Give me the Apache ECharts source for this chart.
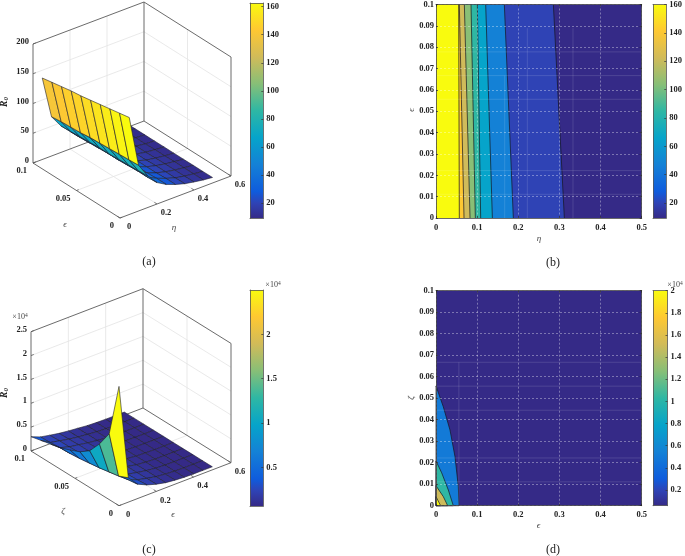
<!DOCTYPE html>
<html>
<head>
<meta charset="utf-8">
<style>
html, body { margin: 0; padding: 0; background: #fff; }
#chart { width: 685px; height: 556px; }
</style>
<script src="https://cdn.jsdelivr.net/npm/echarts@6/dist/echarts.min.js"></script>
</head>
<body>
<div id="chart"></div>
<script>
// panel (a): surface R0 over eta (rows) and epsilon (columns)
const etaA = [0.05, 0.1, 0.15, 0.2, 0.25, 0.3, 0.35, 0.4, 0.45, 0.5];
const epsA = [0, 0.0111, 0.0222, 0.0333, 0.0444, 0.0556, 0.0667, 0.0778, 0.0889, 0.1];
const r0A = [
    [163, 160, 157, 154, 151, 148, 146, 143, 140, 137],
    [77, 76, 75, 74, 73, 72, 70, 69, 68, 66],
    [53, 52, 51, 50, 49, 49, 48, 47, 46, 45],
    [36, 35, 35, 34, 33, 33, 32, 31, 30, 29.5],
    [27, 27, 26, 26, 25, 25, 24, 24, 23, 23],
    [21, 21, 20, 20, 20, 19, 19, 19, 18, 18],
    [16.5, 16, 16, 16, 15, 15, 15, 15, 14, 14],
    [13.5, 13, 13, 13, 12.5, 12, 12, 12, 12, 11.5],
    [11, 11, 11, 11, 10.5, 10.5, 10, 10, 10, 10],
    [9.3, 9.2, 9.2, 9.1, 9.1, 9.1, 9, 9, 9, 9]
];
const etaTicksA = [0, 0.2, 0.4, 0.6];
const epsTicksA = [0, 0.05, 0.1];
const zTicksA = [0, 50, 100, 150, 200];
const barTicksA = [20, 40, 60, 80, 100, 120, 140, 160];

// panel (b): contour lines as eta positions at epsilon = 0 and epsilon = 0.1
const lineEtaBottomB = [0.0567, 0.0681, 0.0827, 0.0956, 0.1086, 0.1370, 0.1880, 0.3120];
const lineEtaTopB = [0.0551, 0.0567, 0.0689, 0.0851, 0.1005, 0.1208, 0.1661, 0.2853];
const bandLevelsB = [160, 141, 122, 104, 85, 66, 47, 20, 9.5];
const barTicksB = [20, 40, 60, 80, 100, 120, 140, 160];
// faint seams left in the filled area, [x0, y0, x1, y1]
const seamsB = [
    [0, 0.0778, 0.5, 0.0778], [0, 0.0667, 0.5, 0.0667], [0, 0.0556, 0.5, 0.0556],
    [0, 0.0222, 0.5, 0.0222], [0, 0.0111, 0.5, 0.0111],
    [0.222, 0, 0.222, 0.0889], [0.333, 0, 0.333, 0.0889], [0.167, 0, 0.167, 0.0667]
];

// panel (c): surface R0 (x 10^4) over epsilon (rows) and zeta (columns)
const epsC = [0, 0.05, 0.1, 0.15, 0.2, 0.25, 0.3, 0.35, 0.4, 0.45, 0.5];
const zetaC = [0, 0.0111, 0.0222, 0.0333, 0.0444, 0.0556, 0.0667, 0.0778, 0.0889, 0.1];
const r0C = [
    [2.5, 1.38, 1.04, 0.77, 0.62, 0.53, 0.45, 0.4, 0.35, 0.3],
    [0.51, 0.42, 0.38, 0.34, 0.31, 0.28, 0.26, 0.25, 0.23, 0.22],
    [0.3, 0.27, 0.25, 0.24, 0.22, 0.21, 0.2, 0.19, 0.19, 0.18],
    [0.21, 0.19, 0.18, 0.18, 0.17, 0.17, 0.16, 0.16, 0.15, 0.145],
    [0.15, 0.145, 0.14, 0.14, 0.135, 0.13, 0.13, 0.125, 0.12, 0.12],
    [0.107, 0.105, 0.105, 0.1, 0.1, 0.1, 0.1, 0.1, 0.1, 0.1],
    [0.085, 0.085, 0.08, 0.08, 0.08, 0.08, 0.08, 0.08, 0.08, 0.08],
    [0.07, 0.07, 0.07, 0.07, 0.07, 0.07, 0.07, 0.07, 0.07, 0.07],
    [0.066, 0.066, 0.066, 0.066, 0.066, 0.066, 0.066, 0.066, 0.066, 0.065],
    [0.065, 0.065, 0.065, 0.065, 0.065, 0.065, 0.065, 0.065, 0.065, 0.065],
    [0.065, 0.065, 0.065, 0.065, 0.065, 0.065, 0.065, 0.065, 0.065, 0.065]
];
const epsTicksC = [0, 0.2, 0.4, 0.6];
const zetaTicksC = [0, 0.05, 0.1];
const zTicksC = [0, 0.5, 1, 1.5, 2, 2.5];
const barTicksC = [0.5, 1, 1.5, 2];

// panel (d): contour lines as [epsilon, zeta] points, outermost first
const linesD = [
    [[0, 0.0557], [0.0178, 0.046], [0.034, 0.0352], [0.0462, 0.0228], [0.0543, 0.0088], [0.0559, 0]],
    [[0, 0.0208], [0.0138, 0.0153], [0.03, 0.0073], [0.0421, 0]],
    [[0, 0.0093], [0.0178, 0.0042], [0.0284, 0]],
    [[0, 0.0042], [0.0113, 0]]
];
const bandLevelsD = [2, 1.5, 1.03, 0.5, 0.058];
const barTicksD = [0.2, 0.4, 0.6, 0.8, 1, 1.2, 1.4, 1.6, 1.8, 2];
const seamsD = [
    [0, 0.0667, 0.5, 0.0667], [0, 0.0556, 0.5, 0.0556], [0, 0.0444, 0.5, 0.0444],
    [0, 0.0222, 0.5, 0.0222], [0, 0.0111, 0.5, 0.0111], [0.0556, 0, 0.0556, 0.0667]
];

const parula = ['#352a87', '#2f43b5', '#0f5cdd', '#1481d6', '#06a4ca', '#2eb7a4', '#87bf77', '#d1bb59', '#fec832', '#f9fb0e'];
const parulaPos = [0, 0.07, 0.125, 0.25, 0.375, 0.5, 0.625, 0.75, 0.875, 1];
const numFont = 'bold 8.5px "Liberation Serif"';
const nameFont = '9px "Liberation Serif"';
const inkColor = '#222';

function rgb(hex) {
    return [1, 3, 5].map(function (k) { return parseInt(hex.substr(k, 2), 16); });
}

function parulaAt(v, min, max) {
    const t = Math.max(0, Math.min(1, (v - min) / (max - min)));
    let k = 0;
    while (k < parula.length - 2 && t > parulaPos[k + 1]) {
        k++;
    }
    const f = (t - parulaPos[k]) / (parulaPos[k + 1] - parulaPos[k]);
    const a = rgb(parula[k]), b = rgb(parula[k + 1]);
    const c = a.map(function (x, n) { return Math.round(x + (b[n] - x) * f); });
    return 'rgb(' + c.join(',') + ')';
}

const grids = [], xAxes = [], yAxes = [], series = [], texts = [];

// one custom series draws a list of polygons, lines and labels
function primSeries(prims, xi, yi, z) {
    series.push({
        type: 'custom',
        xAxisIndex: xi,
        yAxisIndex: yi,
        z: z,
        silent: true,
        animation: false,
        data: prims.map(function () { return [0, 0]; }),
        renderItem: function (params, api) {
            const p = prims[params.dataIndex];
            if (p.text !== undefined) {
                const at = api.coord(p.at);
                return {
                    type: 'text', x: at[0], y: at[1], z2: params.dataIndex,
                    style: { text: p.text, font: p.font || numFont, fill: p.color || inkColor,
                        align: p.align || 'center', verticalAlign: 'middle' }
                };
            }
            const pts = p.pts.map(function (q) { return api.coord(q); });
            return {
                type: p.fill ? 'polygon' : 'polyline', z2: params.dataIndex,
                shape: { points: pts },
                style: { fill: p.fill || 'none', stroke: p.stroke || 'none', lineWidth: p.width || 0.6, lineJoin: 'round' }
            };
        }
    });
}

function addGrid(rect) {
    grids.push(rect);
    return grids.length - 1;
}

// 3d box: ex, ey, ez are the pixel lengths of the three box edges on screen
function surface3d(cfg) {
    const g = addGrid({ left: cfg.left, top: cfg.top, width: cfg.width, height: cfg.height, containLabel: false });
    xAxes.push({ show: false, type: 'value', gridIndex: g, min: 0, max: cfg.width });
    yAxes.push({ show: false, type: 'value', gridIndex: g, min: 0, max: cfg.height, inverse: true });
    const xi = xAxes.length - 1, yi = yAxes.length - 1;
    const project = function (fx, fy, fz) {
        return [cfg.ox + fx * cfg.ex[0] + fy * cfg.ey[0],
            cfg.oy + fx * cfg.ex[1] + fy * cfg.ey[1] + fz * cfg.ez];
    };
    const back = [], front = [];
    const wall = '#e3e3e3', edge = '#5a5a5a';
    const line = function (list, a, b, color, width) {
        list.push({ pts: [project(a[0], a[1], a[2]), project(b[0], b[1], b[2])], stroke: color, width: width });
    };
    cfg.xTicks.forEach(function (t) {
        const f = t / cfg.xMax;
        if (f > 0 && f < 1) {
            line(back, [f, 0, 0], [f, 1, 0], wall, 0.8);
            line(back, [f, 1, 0], [f, 1, 1], wall, 0.8);
        }
    });
    cfg.yTicks.forEach(function (t) {
        const f = t / cfg.yMax;
        if (f > 0 && f < 1) {
            line(back, [0, f, 0], [1, f, 0], wall, 0.8);
            line(back, [1, f, 0], [1, f, 1], wall, 0.8);
        }
    });
    cfg.zTicks.forEach(function (t) {
        const f = t / cfg.zMax;
        if (f > 0 && f < 1) {
            line(back, [0, 1, f], [1, 1, f], wall, 0.8);
            line(back, [1, 1, f], [1, 0, f], wall, 0.8);
        }
    });
    [[[0, 1, 0], [1, 1, 0]], [[1, 1, 0], [1, 0, 0]], [[1, 1, 0], [1, 1, 1]], [[0, 1, 1], [1, 1, 1]],
        [[1, 1, 1], [1, 0, 1]], [[1, 0, 0], [1, 0, 1]], [[0, 1, 0], [0, 1, 1]], [[0, 0, 0], [1, 0, 0]],
        [[0, 0, 0], [0, 1, 0]]].forEach(function (e) {
        line(back, e[0], e[1], edge, 0.9);
    });

    // faces, far cells first, coloured by their lowest index corner
    const faces = [];
    for (let i = 0; i < cfg.rows.length - 1; i++) {
        for (let j = 0; j < cfg.cols.length - 1; j++) {
            faces.push([i, j]);
        }
    }
    faces.sort(function (a, b) {
        return (cfg.rows[b[0]] / cfg.xMax + cfg.cols[b[1]] / cfg.yMax) - (cfg.rows[a[0]] / cfg.xMax + cfg.cols[a[1]] / cfg.yMax);
    });
    faces.forEach(function (c) {
        const i = c[0], j = c[1];
        const corner = function (a, b) {
            return project(cfg.rows[a] / cfg.xMax, cfg.cols[b] / cfg.yMax, cfg.values[a][b] / cfg.zMax);
        };
        front.push({
            pts: [corner(i, j), corner(i + 1, j), corner(i + 1, j + 1), corner(i, j + 1)],
            fill: parulaAt(cfg.values[i][j], cfg.barMin, cfg.barMax),
            stroke: '#20202c', width: 0.6
        });
    });

    // ticks and labels on the box edges
    const shift = function (p, dx, dy) { return [p[0] + dx, p[1] + dy]; };
    cfg.xTicks.forEach(function (t) {
        const f = t / cfg.xMax;
        line(back, [f, 0, 0], [f, 0.03, 0], edge, 0.8);
        front.push({ at: shift(project(f, 0, 0), 9, 9), text: String(t) });
    });
    cfg.yTicks.forEach(function (t) {
        const f = t / cfg.yMax;
        line(back, [0, f, 0], [0.02, f, 0], edge, 0.8);
        front.push({ at: shift(project(0, f, 0), -6, 8), text: String(t), align: 'right' });
    });
    cfg.zTicks.forEach(function (t) {
        const f = t / cfg.zMax;
        line(back, [0, 1, f], [0.025, 1, f], edge, 0.8);
        front.push({ at: shift(project(0, 1, f), -4, -2), text: String(t), align: 'right' });
    });
    front.push({ at: cfg.xNameAt, text: cfg.xName, font: 'italic ' + nameFont, color: '#444' });
    front.push({ at: cfg.yNameAt, text: cfg.yName, font: 'italic ' + nameFont, color: '#444' });
    primSeries(back, xi, yi, 1);
    primSeries(front, xi, yi, 2);
}

function colorBar(rect, min, max, ticks) {
    const g = addGrid(rect);
    xAxes.push({ type: 'value', gridIndex: g, min: 0, max: 1, position: 'bottom', z: 5,
        axisLine: { onZero: false, lineStyle: { color: '#555', width: 0.8 } },
        axisTick: { show: false }, axisLabel: { show: false }, splitLine: { show: false } });
    const xi = xAxes.length - 1;
    xAxes.push({ type: 'value', gridIndex: g, min: 0, max: 1, position: 'top', z: 5,
        axisLine: { onZero: false, lineStyle: { color: '#555', width: 0.8 } },
        axisTick: { show: false }, axisLabel: { show: false }, splitLine: { show: false } });
    yAxes.push({ type: 'value', gridIndex: g, min: min, max: max, position: 'right', z: 5,
        axisLine: { onZero: false, show: true, lineStyle: { color: '#555', width: 0.8 } },
        axisTick: { show: true, inside: true, length: 2, customValues: ticks, lineStyle: { color: '#333', width: 0.7 } },
        axisLabel: { customValues: ticks, margin: 3, color: inkColor,
            fontFamily: 'Liberation Serif', fontWeight: 'bold', fontSize: 8.5 },
        splitLine: { show: false } });
    const yi = yAxes.length - 1;
    yAxes.push({ type: 'value', gridIndex: g, min: min, max: max, position: 'left', z: 5,
        axisLine: { onZero: false, show: true, lineStyle: { color: '#555', width: 0.8 } },
        axisTick: { show: false }, axisLabel: { show: false }, splitLine: { show: false } });
    const stops = parula.map(function (c, k) { return { offset: parulaPos[k], color: c }; });
    series.push({
        type: 'custom', xAxisIndex: xi, yAxisIndex: yi, z: 1, silent: true, animation: false,
        data: [[0, min]],
        renderItem: function (params, api) {
            const a = api.coord([0, max]), b = api.coord([1, min]);
            return { type: 'rect', shape: { x: a[0], y: a[1], width: b[0] - a[0], height: b[1] - a[1] },
                style: { fill: { type: 'linear', x: 0, y: 1, x2: 0, y2: 0, colorStops: stops } } };
        }
    });
}

function contourAxes(rect) {
    const g = addGrid(rect);
    const dash = { show: true, lineStyle: { color: 'rgba(255,255,255,0.5)', type: [2, 2], width: 0.7 } };
    const ax = { lineStyle: { color: '#444', width: 0.8 } };
    const lab = { color: inkColor, fontFamily: 'Liberation Serif', fontWeight: 'bold', fontSize: 8.5 };
    const tick = { show: true, inside: true, length: 2, lineStyle: { color: '#222', width: 0.7 } };
    xAxes.push({ type: 'value', gridIndex: g, min: 0, max: 0.5, interval: 0.1, position: 'bottom', z: 5,
        axisLine: Object.assign({ onZero: false }, ax), axisTick: tick,
        axisLabel: Object.assign({ margin: 5 }, lab), splitLine: dash });
    const xi = xAxes.length - 1;
    xAxes.push({ type: 'value', gridIndex: g, min: 0, max: 0.5, interval: 0.1, position: 'top', z: 5,
        axisLine: Object.assign({ onZero: false }, ax), axisTick: tick, axisLabel: { show: false }, splitLine: { show: false } });
    yAxes.push({ type: 'value', gridIndex: g, min: 0, max: 0.1, interval: 0.01, position: 'left', z: 5,
        axisLine: Object.assign({ onZero: false }, ax), axisTick: tick,
        axisLabel: Object.assign({ margin: 2 }, lab), splitLine: dash });
    const yi = yAxes.length - 1;
    yAxes.push({ type: 'value', gridIndex: g, min: 0, max: 0.1, interval: 0.01, position: 'right', z: 5,
        axisLine: Object.assign({ onZero: false }, ax), axisTick: tick, axisLabel: { show: false }, splitLine: { show: false } });
    return [xi, yi];
}

function addSeams(prims, seams) {
    seams.forEach(function (s) {
        prims.push({ pts: [[s[0], s[1]], [s[2], s[3]]], stroke: 'rgba(255,255,255,0.16)', width: 0.8 });
    });
}

function addText(x, y, text, font, rotation, color) {
    texts.push({ type: 'text', x: x, y: y, rotation: rotation || 0, silent: true,
        style: { text: text, font: font, fill: color || inkColor, align: 'center', verticalAlign: 'middle' } });
}

function addRich(x, y, text, rich, rotation) {
    texts.push({ type: 'text', x: x, y: y, rotation: rotation || 0, silent: true,
        style: { text: text, rich: rich, align: 'center', verticalAlign: 'middle' } });
}

const r0Rich = {
    a: { fontFamily: 'Liberation Serif', fontStyle: 'italic', fontWeight: 'bold', fontSize: 9.5, fill: inkColor },
    b: { fontFamily: 'Liberation Serif', fontStyle: 'italic', fontWeight: 'bold', fontSize: 7, fill: inkColor, verticalAlign: 'bottom' }
};
const expRich = {
    a: { fontFamily: 'Liberation Serif', fontSize: 8, fill: '#444' },
    b: { fontFamily: 'Liberation Serif', fontSize: 5.5, fill: '#444', verticalAlign: 'top' }
};

// (a)
surface3d({
    left: 33, top: 3, width: 198, height: 215, ox: 87, oy: 215,
    ex: [111, -42], ey: [-87, -55], ez: -119,
    rows: etaA, cols: epsA, values: r0A, xMax: 0.6, yMax: 0.1, zMax: 200,
    xTicks: etaTicksA, yTicks: epsTicksA, zTicks: zTicksA,
    barMin: 9.1, barMax: 162.6,
    xName: 'η', xNameAt: [141, 225], yName: 'ϵ', yNameAt: [32, 222]
});
colorBar({ left: 250, top: 3, width: 13.3, height: 215.3 }, 9.1, 162.6, barTicksA);
addRich(5, 102, '{a|R}{b|0}', r0Rich, Math.PI / 2);
addText(149, 262, '(a)', '12px "Liberation Serif"');

// (b)
const axesB = contourAxes({ left: 436, top: 3.3, width: 205.7, height: 214.7 });
const primsB = [{ pts: [[0, 0], [0.5, 0], [0.5, 0.1], [0, 0.1]], fill: parulaAt(bandLevelsB[8], 9.5, 160) }];
for (let k = lineEtaBottomB.length - 1; k >= 0; k--) {
    primsB.push({
        pts: [[0, 0], [lineEtaBottomB[k], 0], [lineEtaTopB[k], 0.1], [0, 0.1]],
        fill: parulaAt(bandLevelsB[k], 9.5, 160)
    });
}
lineEtaBottomB.forEach(function (v, k) {
    primsB.push({ pts: [[v, 0], [lineEtaTopB[k], 0.1]], stroke: '#15151f', width: 0.7 });
});
addSeams(primsB, seamsB);
primSeries(primsB, axesB[0], axesB[1], 1);
colorBar({ left: 653, top: 3.3, width: 14.5, height: 214.7 }, 9.5, 160, barTicksB);
addText(539, 238.5, 'η', 'italic ' + nameFont, 0, '#444');
addText(411.5, 110, 'ϵ', 'italic ' + nameFont, Math.PI / 2, '#444');
addText(553, 263, '(b)', '12px "Liberation Serif"');

// (c)
surface3d({
    left: 31, top: 290, width: 200, height: 215.7, ox: 88, oy: 215.7,
    ex: [112, -43], ey: [-88, -54.7], ez: -119.3,
    rows: epsC, cols: zetaC, values: r0C, xMax: 0.6, yMax: 0.1, zMax: 2.5,
    xTicks: epsTicksC, yTicks: zetaTicksC, zTicks: zTicksC,
    barMin: 0.065, barMax: 2.5,
    xName: 'ϵ', xNameAt: [142, 225], yName: 'ζ', yNameAt: [32, 222]
});
colorBar({ left: 250, top: 290, width: 13.3, height: 216 }, 0.065, 2.5, barTicksC);
addRich(5, 393, '{a|R}{b|0}', r0Rich, Math.PI / 2);
addRich(20, 316.5, '{a|×10}{b|4}', expRich);
addRich(273, 284.5, '{a|×10}{b|4}', expRich);
addText(149, 550, '(c)', '12px "Liberation Serif"');

// (d)
const axesD = contourAxes({ left: 436, top: 290.7, width: 205.7, height: 215 });
const primsD = [{ pts: [[0, 0], [0.5, 0], [0.5, 0.1], [0, 0.1]], fill: parulaAt(bandLevelsD[4], 0.058, 2) }];
linesD.forEach(function (pts, k) {
    primsD.push({ pts: [[0, 0]].concat(pts), fill: parulaAt(bandLevelsD[3 - k], 0.058, 2), stroke: '#15151f', width: 0.7 });
});
addSeams(primsD, seamsD);
primSeries(primsD, axesD[0], axesD[1], 1);
colorBar({ left: 653, top: 290.7, width: 14.5, height: 215 }, 0.058, 2, barTicksD);
addRich(675, 284.5, '{a|×10}{b|4}', expRich);
addText(538.5, 526, 'ϵ', 'italic ' + nameFont, 0, '#444');
addText(411.5, 398, 'ζ', 'italic ' + nameFont, Math.PI / 2, '#444');
addText(553, 550, '(d)', '12px "Liberation Serif"');

const chart = echarts.init(document.getElementById('chart'));
chart.setOption({
    animation: false,
    backgroundColor: '#fff',
    grid: grids,
    xAxis: xAxes,
    yAxis: yAxes,
    series: series,
    graphic: { elements: texts }
});
</script>
</body>
</html>
